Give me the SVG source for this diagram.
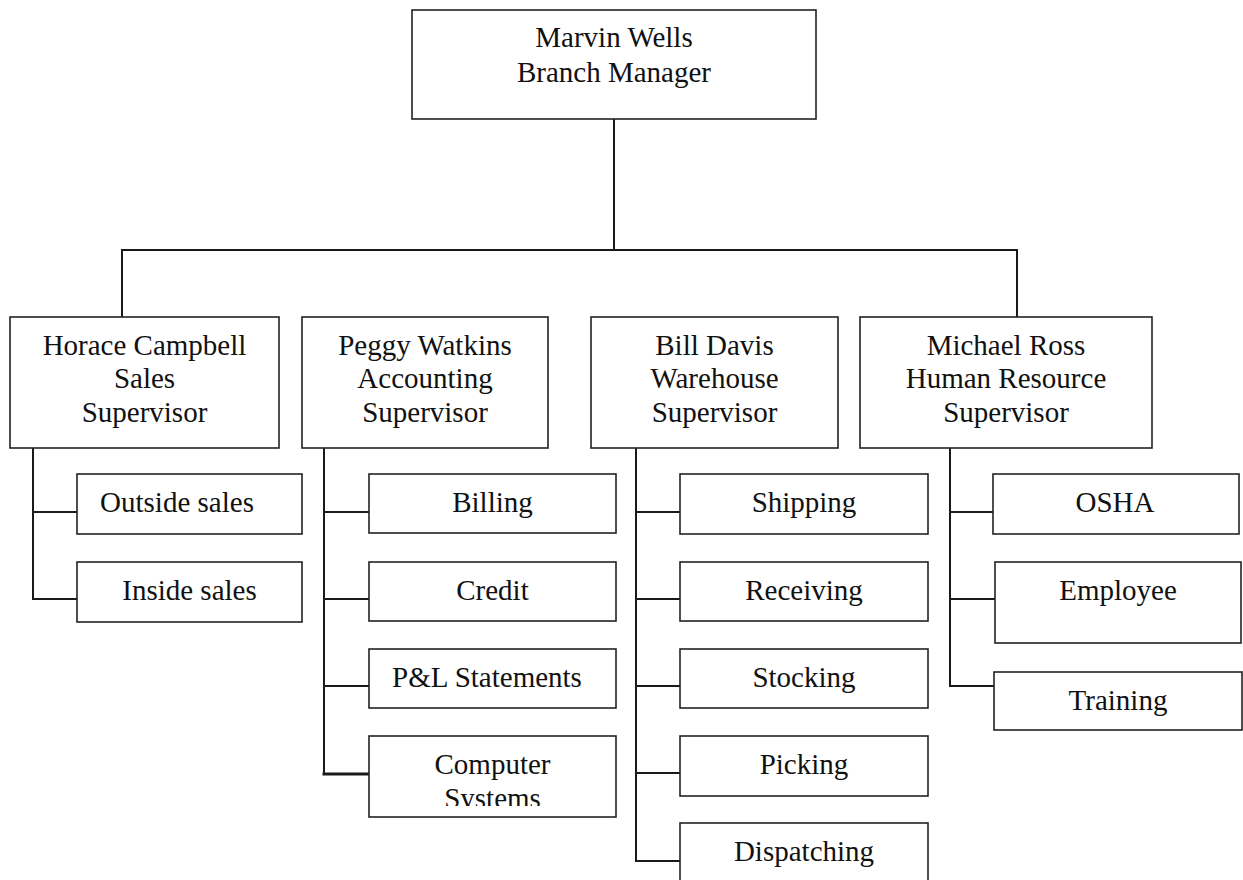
<svg xmlns="http://www.w3.org/2000/svg" width="1243" height="880" viewBox="0 0 1243 880">
<style>
rect.box{fill:#fff;stroke:#222;stroke-width:1.6}
text{font-family:"Liberation Serif","Times New Roman",serif;font-size:29px;fill:#111;text-anchor:middle}
.conn line{stroke:#1a1a1a;stroke-width:2;stroke-linecap:square}
</style>
<defs>
<clipPath id="clipComp"><rect x="369" y="736" width="247" height="70"/></clipPath>
</defs>
<rect width="1243" height="880" fill="#fff"/>
<g class="conn" id="connectors">
<line x1="614" y1="119" x2="614" y2="250"/>
<line x1="122" y1="250" x2="1017" y2="250"/>
<line x1="122" y1="250" x2="122" y2="317"/>
<line x1="1017" y1="250" x2="1017" y2="317"/>
<line x1="33" y1="448" x2="33" y2="599"/>
<line x1="33" y1="512" x2="77" y2="512"/>
<line x1="33" y1="599" x2="77" y2="599"/>
<line x1="324" y1="448" x2="324" y2="774"/>
<line x1="324" y1="512" x2="369" y2="512"/>
<line x1="324" y1="599" x2="369" y2="599"/>
<line x1="324" y1="686" x2="369" y2="686"/>
<line x1="324" y1="774" x2="369" y2="774" style="stroke-width:3"/>
<line x1="636" y1="448" x2="636" y2="861"/>
<line x1="636" y1="512" x2="680" y2="512"/>
<line x1="636" y1="599" x2="680" y2="599"/>
<line x1="636" y1="686" x2="680" y2="686"/>
<line x1="636" y1="773" x2="680" y2="773"/>
<line x1="636" y1="861" x2="680" y2="861"/>
<line x1="950" y1="448" x2="950" y2="686"/>
<line x1="950" y1="512" x2="993" y2="512"/>
<line x1="950" y1="599" x2="995" y2="599"/>
<line x1="950" y1="686" x2="994" y2="686"/>
</g>
<g id="marvin"><rect class="box" x="412" y="10" width="404" height="109"/><text x="614" y="47">Marvin Wells</text><text x="614" y="82">Branch Manager</text></g>
<g id="horace"><rect class="box" x="10" y="317" width="269" height="131"/><text x="144.5" y="355">Horace Campbell</text><text x="144.5" y="388">Sales</text><text x="144.5" y="422">Supervisor</text></g>
<g id="peggy"><rect class="box" x="302" y="317" width="246" height="131"/><text x="425" y="355">Peggy Watkins</text><text x="425" y="388">Accounting</text><text x="425" y="422">Supervisor</text></g>
<g id="bill"><rect class="box" x="591" y="317" width="247" height="131"/><text x="714.5" y="355">Bill Davis</text><text x="714.5" y="388">Warehouse</text><text x="714.5" y="422">Supervisor</text></g>
<g id="michael"><rect class="box" x="860" y="317" width="292" height="131"/><text x="1006" y="355">Michael Ross</text><text x="1006" y="388">Human Resource</text><text x="1006" y="422">Supervisor</text></g>
<g id="outside"><rect class="box" x="77" y="474" width="225" height="60"/><text x="177" y="512">Outside sales</text></g>
<g id="inside"><rect class="box" x="77" y="562" width="225" height="60"/><text x="189.5" y="600">Inside sales</text></g>
<g id="billing"><rect class="box" x="369" y="474" width="247" height="59"/><text x="492.5" y="512">Billing</text></g>
<g id="credit"><rect class="box" x="369" y="562" width="247" height="59"/><text x="492.5" y="600">Credit</text></g>
<g id="pl"><rect class="box" x="369" y="649" width="247" height="59"/><text x="487" y="687">P&amp;L Statements</text></g>
<g id="computer"><rect class="box" x="369" y="736" width="247" height="81"/><g clip-path="url(#clipComp)"><text x="492.5" y="774">Computer</text><text x="492.5" y="808">Systems</text></g></g>
<g id="shipping"><rect class="box" x="680" y="474" width="248" height="60"/><text x="804" y="512">Shipping</text></g>
<g id="receiving"><rect class="box" x="680" y="562" width="248" height="59"/><text x="804" y="600">Receiving</text></g>
<g id="stocking"><rect class="box" x="680" y="649" width="248" height="59"/><text x="804" y="687">Stocking</text></g>
<g id="picking"><rect class="box" x="680" y="736" width="248" height="60"/><text x="804" y="774">Picking</text></g>
<g id="dispatching"><rect class="box" x="680" y="823" width="248" height="81"/><text x="804" y="861">Dispatching</text></g>
<g id="osha"><rect class="box" x="993" y="474" width="246" height="60"/><text x="1115" y="512">OSHA</text></g>
<g id="employee"><rect class="box" x="995" y="562" width="246" height="81"/><text x="1118" y="600">Employee</text></g>
<g id="training"><rect class="box" x="994" y="672" width="248" height="58"/><text x="1118" y="710">Training</text></g>
</svg>
